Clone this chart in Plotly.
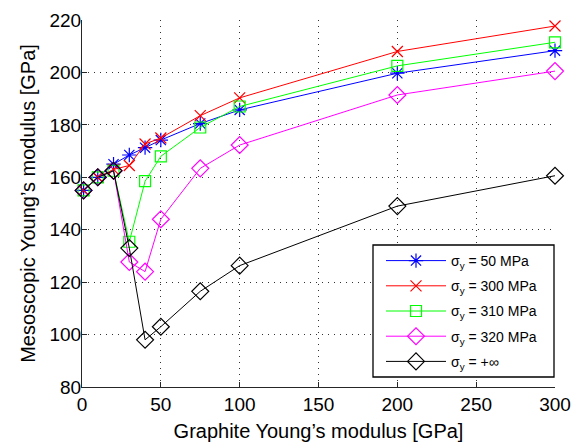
import plotly.graph_objects as go

x_vals = [1, 10, 20, 30, 40, 50, 75, 100, 200, 300]
e_50 = [155, 160, 165, 168.5, 171.3, 174.2, 180.5, 185.7, 199.7, 208.3]
e_300 = [155, 160, 163, 164.5, 172.7, 175, 183.5, 190.3, 208, 217.7]
e_310 = [155, 160, 162.5, 135.4, 158.5, 168, 179, 187, 202.5, 211.5]
e_320 = [155, 160, 162.5, 127.7, 124, 144, 163.4, 172.3, 191.4, 200.5]
e_inf = [155, 160, 162.5, 133, 98, 103, 116.5, 126.3, 149, 160.6]

names = ["σ<sub>y</sub> = 50 MPa", "σ<sub>y</sub> = 300 MPa", "σ<sub>y</sub> = 310 MPa",
         "σ<sub>y</sub> = 320 MPa", "σ<sub>y</sub> = +∞"]
colors = ["#0000FF", "#FF0000", "#00FF00", "#FF00FF", "#000000"]
symbols = ["asterisk-open", "x-thin-open", "square-open", "diamond-open", "diamond-open"]
sizes = [12, 11, 11, 13, 13]
series = [e_50, e_300, e_310, e_320, e_inf]

fig = go.Figure()
for i, (nm, c, s, sz, y) in enumerate(zip(names, colors, symbols, sizes, series)):
    fig.add_trace(go.Scatter(
        x=x_vals, y=y, name=nm, mode="lines+markers", legendgroup=f"g{i}",
        line=dict(color=c, width=1),
        marker=dict(symbol=s, size=sz, color=c, line=dict(color=c, width=1.2)),
        cliponaxis=False,
    ))

font = "'Liberation Sans', Arial, sans-serif"
axis_common = dict(
    showgrid=True, gridcolor="#333333", griddash="1px,5px", gridwidth=1,
    zeroline=False, showline=True, linecolor="#262626", linewidth=1,
    ticks="inside", ticklen=5, tickcolor="#262626", mirror=False,
    tickfont=dict(family=font, size=19, color="#000000"),
)

# legend frame (paper coords of the plot area: x 82..555, y 20..387 px)
lx0, lx1 = (373 - 82) / 473, (554 - 82) / 473
ly0, ly1 = (387 - 377) / 367, (387 - 245) / 367

fig.update_layout(
    width=578, height=442,
    paper_bgcolor="white", plot_bgcolor="white",
    margin=dict(l=82, r=23, t=20, b=55, autoexpand=False),
    font=dict(family=font, color="#000000"),
    xaxis=dict(range=[0, 300], tickvals=[0, 50, 100, 150, 200, 250, 300],
               title=dict(text="Graphite Young’s modulus [GPa]", font=dict(family=font, size=20), standoff=10),
               automargin=False, **axis_common),
    yaxis=dict(range=[80, 220], tickvals=[80, 100, 120, 140, 160, 180, 200, 220],
               title=dict(text="Mesoscopic Young’s modulus [GPa]", font=dict(family=font, size=20), standoff=8),
               ticklabelstandoff=-4,
               automargin=False, **axis_common),
    legend=dict(x=lx0 + 8 / 473, y=ly1, xanchor="left", yanchor="top",
                bgcolor="rgba(0,0,0,0)", borderwidth=0,
                font=dict(family=font, size=14), itemwidth=60,
                tracegroupgap=4),
    shapes=[dict(type="rect", xref="paper", yref="paper", x0=lx0, x1=lx1, y0=ly0, y1=ly1,
                 fillcolor="white", line=dict(color="#000000", width=1.3), layer="above")],
    showlegend=True,
)

fig.write_html("out.html", config={"displayModeBar": False},
               post_script="document.body.style.margin='0';")
